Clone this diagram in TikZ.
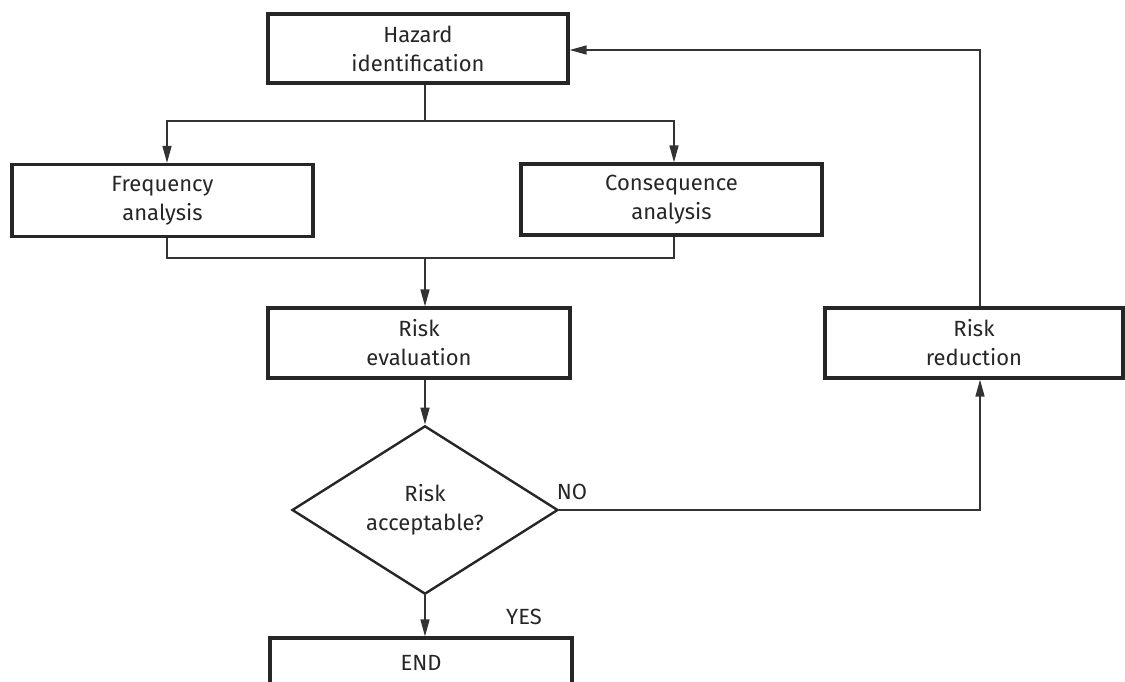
\documentclass[tikz,border=0pt]{standalone}
\usepackage{fontspec}
\setmainfont{Fira Sans}
\usetikzlibrary{arrows.meta,shapes.geometric}

\tikzset{
  stepbox/.style={draw=black!85, line width=3.2pt, rectangle, inner sep=0pt,
    align=center, font=\fontsize{22}{29}\selectfont, text=black!85},
  decision/.style={draw=black!85, line width=2.4pt, diamond, inner sep=0pt,
    align=center, font=\fontsize{22}{29}\selectfont, text=black!85},
  flow/.style={draw=black!80, line width=1.5pt},
  flowarrow/.style={flow, -{Triangle[length=17pt,width=9pt]}},
  tag/.style={font=\fontsize{22}{24}\selectfont, text=black!85}
}

\begin{document}
\begin{tikzpicture}[x=1pt,y=-1pt]
  \useasboundingbox (0,0) rectangle (1125,682);
  \clip (0,0) rectangle (1125,682);

  % process steps
  \node[stepbox, minimum width=300pt, minimum height=69pt] (haz) at (418,48.5)
    {Hazard\\identification};
  \node[stepbox, minimum width=301pt, minimum height=72pt] (freq) at (162.5,200.5)
    {Frequency\\analysis};
  \node[stepbox, minimum width=301pt, minimum height=71pt] (cons) at (671.5,199.5)
    {Consequence\\analysis};
  \node[stepbox, minimum width=302pt, minimum height=70pt] (eval) at (419,343)
    {Risk\\evaluation};
  \node[stepbox, minimum width=298pt, minimum height=70pt] (red) at (974,343)
    {Risk\\reduction};
  \node[decision, minimum width=266pt, minimum height=164pt] (acc) at (425,510)
    {Risk\\acceptable?};
  \node[stepbox, minimum width=302pt, minimum height=64pt] (end) at (421,670)
    {};
  \node[tag] (endtxt) at (421,663) {END};

  % junction points
  \coordinate (split)  at (425,121);
  \coordinate (merge)  at (425,258);
  \coordinate (corner) at (980,513);
  \coordinate (back)   at (980,50);

  % hazard identification branches to both analyses
  \draw[flow] (haz.south -| split) -- (split);
  \draw[flowarrow] (split) -| (freq.north -| 167,0);
  \draw[flowarrow] (split) -| (cons.north -| 674,0);

  % both analyses merge into risk evaluation
  \draw[flow] (freq.south -| 167,0) |- (merge);
  \draw[flow] (cons.south -| 674,0) |- (merge);
  \draw[flowarrow] (merge) -- (eval.north -| merge);

  % evaluation and decision
  \draw[flowarrow] (eval.south -| acc.north) -- (acc.north);
  \draw[flowarrow] (acc.south) -- (end.north -| acc.south);

  % NO branch: reduce risk and loop back
  \draw[flowarrow] (acc.east) -- (acc.east -| corner) -- (red.south -| corner);
  \draw[flowarrow] (red.north -| back) -- (back) -- (haz.east |- back);

  % branch labels
  \node[tag] (no)  at (572,492) {NO};
  \node[tag] (yes) at (524,617) {YES};
\end{tikzpicture}
\end{document}
